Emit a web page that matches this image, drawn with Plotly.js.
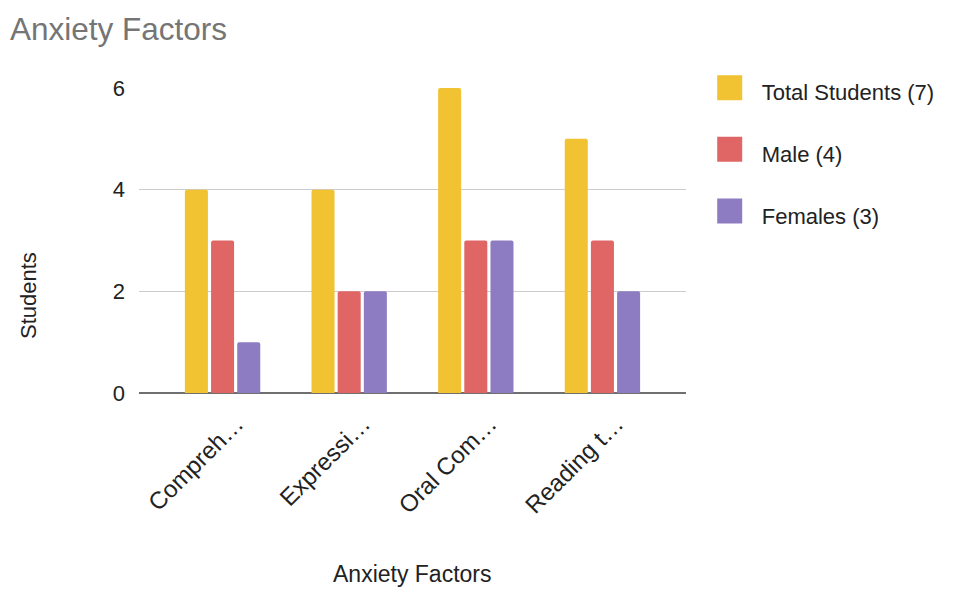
<!DOCTYPE html>
<html>
<head>
<meta charset="utf-8">
<script src="https://cdn.plot.ly/plotly-3.0.1.min.js"></script>
<style>html,body{margin:0;padding:0;background:#fff;}#chart{width:958px;height:590px;}</style>
</head>
<body>
<div id="chart"></div>
<script>
const categories = ["Compreh…", "Expressi…", "Oral Com…", "Reading t…"];
const totalStudents = [4, 4, 6, 5];
const male = [3, 2, 3, 3];
const females = [1, 2, 3, 2];
const seriesNames = ["Total Students (7)", "Male (4)", "Females (3)"];
const seriesColors = ["#F1C232", "#E06666", "#8E7CC3"];
const yTicks = [0, 2, 4, 6];

const font = "Liberation Sans, Arial, sans-serif";
const seriesValues = [totalStudents, male, females];
const traces = seriesValues.map((vals, i) => ({
  type: "bar",
  name: seriesNames[i],
  x: categories,
  y: vals,
  legendgroup: "g" + i,
  marker: {color: seriesColors[i], cornerradius: 2, line: {width: 0}},
  hoverinfo: "x+y+name"
}));

const layout = {
  width: 958, height: 590,
  margin: {l: 139, r: 272, t: 88, b: 197},
  paper_bgcolor: "#fff", plot_bgcolor: "#fff",
  font: {family: font, color: "#222"},
  title: {text: "Anxiety Factors", x: 10 / 958, xanchor: "left", xref: "container", y: 1 - 29 / 590, yanchor: "middle", yref: "container",
          font: {family: font, size: 31.5, color: "#757575"}},
  barmode: "group",
  bargap: 0.38,
  bargroupgap: 0.12,
  xaxis: {
    type: "category",
    range: [-0.66, 3.66],
    tickangle: -45,
    tickfont: {family: font, size: 24, color: "#222"},
    showgrid: false, zeroline: false, showline: false, ticks: "",
    ticklabelstandoff: 11,
    ticklabelshift: 14,
    automargin: false
  },
  yaxis: {
    range: [0, 6],
    tickvals: yTicks,
    ticktext: yTicks.map(String),
    tickfont: {family: font, size: 22, color: "#222"},
    gridcolor: "#cccccc", gridwidth: 1,
    zeroline: true, zerolinecolor: "#6f6f6f", zerolinewidth: 2,
    showline: false, ticks: "",
    ticklabelstandoff: 13,
    automargin: false
  },
  legend: {
    x: 1.047, xanchor: "left", y: 1.056, yanchor: "top",
    font: {family: font, size: 22, color: "#222"},
    traceorder: "grouped", tracegroupgap: 30,
    itemwidth: 40,
    bgcolor: "rgba(0,0,0,0)"
  },
  annotations: [{
    text: "Anxiety Factors", xref: "paper", yref: "paper",
    x: 0.5, y: (393 - 574) / 305, xanchor: "center", yanchor: "middle",
    showarrow: false,
    font: {family: font, size: 23, color: "#222"}
  }, {
    text: "Students", xref: "paper", yref: "paper",
    x: (28 - 139) / 547, y: (393 - 296) / 305, xanchor: "center", yanchor: "middle",
    showarrow: false, textangle: -90,
    font: {family: font, size: 22, color: "#222"}
  }]
};

Plotly.newPlot("chart", traces, layout, {displayModeBar: false, staticPlot: true}).then(() => {
  document.querySelectorAll("#chart .legendpoints path").forEach(p => {
    p.setAttribute("d", "M5.5,8.5H-19.5V-16.5H5.5Z");
  });
});
</script>
</body>
</html>
